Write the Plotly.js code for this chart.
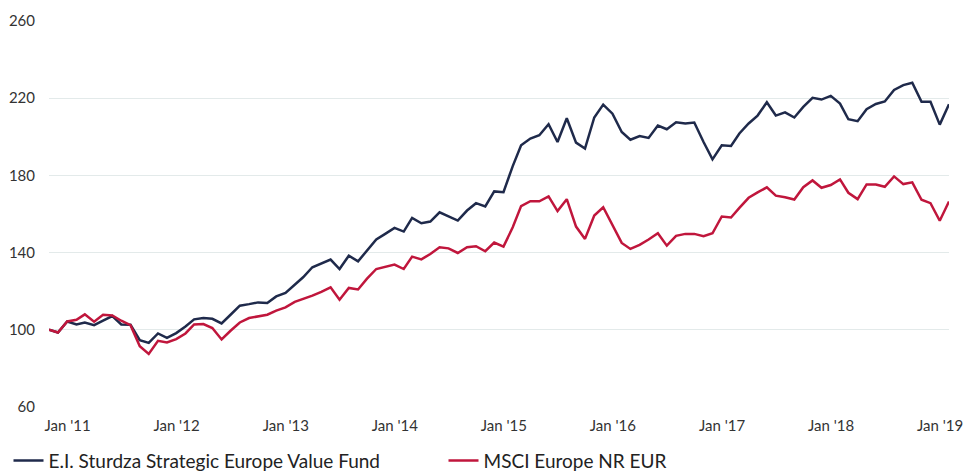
<!DOCTYPE html>
<html>
<head>
<meta charset="utf-8">
<script src="https://cdn.plot.ly/plotly-3.0.1.min.js"></script>
<style>
html,body{margin:0;padding:0;background:#fff;}
#chart{width:967px;height:475px;}
</style>
</head>
<body>
<div id="chart"></div>
<script>
// Series names
var fundName = "E.I. Sturdza Strategic Europe Value Fund";
var indexName = "MSCI Europe NR EUR";

// Monthly observations (month-end), Oct 2010 .. Jan 2019
var startYear = 2010, startMonth = 10, nPoints = 100;

var fundValues = [
  100.0, 98.6, 104.3, 102.8, 103.8, 102.4, 104.8, 107.1, 102.8, 102.6,
  94.6, 93.2, 98.1, 95.8, 98.3, 101.7, 105.4, 106.1, 105.7, 103.3,
  107.8, 112.5, 113.3, 114.2, 113.9, 117.3, 119.1, 123.2, 127.2, 132.4,
  134.4, 136.4, 131.5, 138.4, 135.5, 141.0, 146.8, 149.7, 152.8, 150.9,
  158.0, 155.2, 156.1, 160.9, 158.9, 156.6, 161.8, 165.6, 163.9, 171.7,
  171.3, 184.8, 195.6, 199.1, 200.8, 206.5, 197.3, 209.6, 197.0, 193.9,
  210.0, 216.7, 212.0, 202.5, 198.5, 200.4, 199.4, 205.8, 203.9, 207.5,
  206.9, 207.4, 197.3, 188.3, 195.6, 195.2, 201.7, 206.9, 211.0, 217.9,
  211.0, 212.7, 210.0, 215.5, 220.2, 219.3, 221.2, 217.2, 209.1, 208.1,
  214.3, 217.0, 218.3, 224.3, 226.8, 228.0, 218.1, 218.1, 206.3, 216.9
];

var indexValues = [
  100.0, 98.6, 104.3, 105.2, 108.0, 104.2, 107.8, 107.4, 104.7, 102.4,
  91.5, 87.5, 94.3, 93.4, 95.2, 98.1, 102.8, 103.0, 100.9, 95.0,
  99.5, 103.8, 106.1, 106.9, 107.8, 109.9, 111.6, 114.5, 115.9, 117.7,
  119.7, 122.0, 115.6, 121.7, 120.9, 126.5, 131.5, 132.7, 133.8, 131.5,
  137.9, 136.5, 139.3, 142.8, 142.2, 139.8, 142.8, 143.3, 140.7, 145.2,
  143.1, 153.1, 164.1, 166.6, 166.6, 169.1, 161.5, 167.7, 153.5, 147.1,
  159.2, 163.5, 154.4, 145.0, 141.9, 144.0, 146.8, 150.0, 143.6, 148.7,
  149.7, 149.7, 148.5, 150.0, 158.7, 158.2, 163.2, 168.4, 171.2, 173.8,
  169.5, 168.7, 167.5, 173.9, 177.4, 173.6, 175.0, 177.9, 171.0, 167.7,
  175.3, 175.3, 174.1, 179.5, 175.5, 176.4, 167.4, 165.6, 156.5, 166.5
];

// Axis ticks
var xTickVals = ["2011-01-01","2012-01-01","2013-01-01","2014-01-01","2015-01-01","2016-01-01","2017-01-01","2018-01-01","2019-01-01"];
var xTickText = ["Jan '11","Jan '12","Jan '13","Jan '14","Jan '15","Jan '16","Jan '17","Jan '18","Jan '19"];
var yTickVals = [60, 100, 140, 180, 220, 260];

function pad(n){return (n<10?"0":"")+n;}
var dates = [];
for (var i = 0; i < nPoints; i++) {
  var m = startMonth - 1 + i;
  var y = startYear + Math.floor(m / 12);
  var mo = (m % 12) + 1;
  var last = new Date(Date.UTC(y, mo, 0)).getUTCDate();
  dates.push(y + "-" + pad(mo) + "-" + pad(last));
}

var traces = [
  {x: dates, y: fundValues, name: fundName, type: "scatter", mode: "lines",
   line: {color: "#1f2a4b", width: 2.5}, hoverinfo: "skip"},
  {x: dates, y: indexValues, name: indexName, type: "scatter", mode: "lines",
   line: {color: "#c0163c", width: 2.5}, hoverinfo: "skip"}
];

var layout = {
  width: 967, height: 475,
  margin: {l: 49, r: 18, t: 21, b: 68, pad: 0, autoexpand: false},
  paper_bgcolor: "#ffffff", plot_bgcolor: "#ffffff",
  font: {family: "Lato, 'Open Sans', sans-serif", color: "#333333", size: 15},
  showlegend: true,
  legend: {orientation: "h", x: -0.045, xanchor: "left", y: -0.09, yanchor: "top",
    font: {size: 19, color: "#222222"}, entrywidth: 390, entrywidthmode: "pixels",
    bgcolor: "rgba(0,0,0,0)", traceorder: "normal"},
  xaxis: {type: "date", range: [dates[0], dates[dates.length-1]],
    tickvals: xTickVals, ticktext: xTickText, showgrid: false, zeroline: false,
    showline: false, ticks: "outside", ticklen: 5, tickcolor: "rgba(0,0,0,0)",
    tickfont: {size: 15, color: "#333333"}, automargin: false, fixedrange: true},
  yaxis: {range: [60, 260], tickvals: yTickVals, showgrid: true, gridcolor: "#e3eaea",
    gridwidth: 1, zeroline: false, showline: false, ticks: "outside", ticklen: 10,
    tickcolor: "rgba(0,0,0,0)", tickfont: {size: 15, color: "#333333"},
    automargin: false, fixedrange: true}
};

Plotly.newPlot("chart", traces, layout, {staticPlot: true, displayModeBar: false});
</script>
</body>
</html>
